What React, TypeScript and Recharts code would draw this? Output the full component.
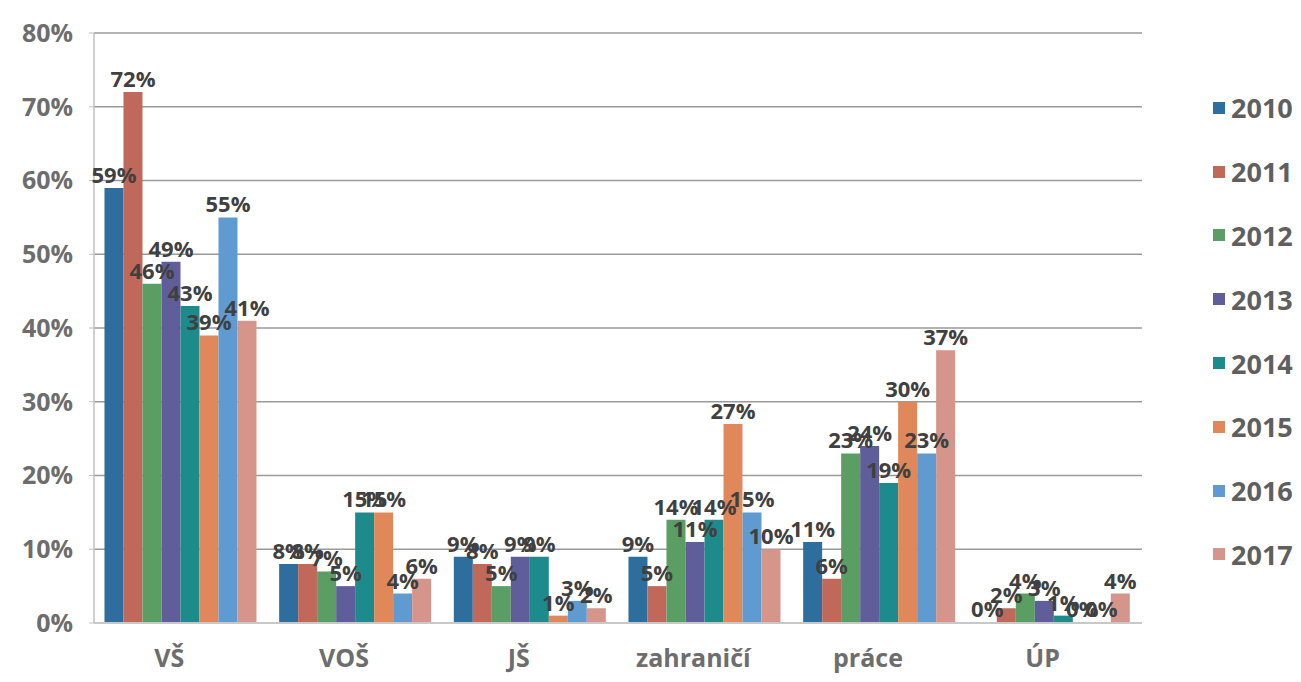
import React from 'react';
import { BarChart, Bar, XAxis, YAxis, CartesianGrid, LabelList, Rectangle } from 'recharts';

const categories = ['VŠ', 'VOŠ', 'JŠ', 'zahraničí', 'práce', 'ÚP'];
const years = ['2010', '2011', '2012', '2013', '2014', '2015', '2016', '2017'];
const colors = ['#2d6e9e', '#c0695a', '#5a9e63', '#5f5e9a', '#1d8a8c', '#e0885a', '#5f9bd0', '#d5958a'];

const v2010 = [59, 8, 9, 9, 11, 0];
const v2011 = [72, 8, 8, 5, 6, 2];
const v2012 = [46, 7, 5, 14, 23, 4];
const v2013 = [49, 5, 9, 11, 24, 3];
const v2014 = [43, 15, 9, 14, 19, 1];
const v2015 = [39, 15, 1, 27, 30, 0];
const v2016 = [55, 4, 3, 15, 23, 0];
const v2017 = [41, 6, 2, 10, 37, 4];

const yTicks = [0, 10, 20, 30, 40, 50, 60, 70, 80];

const series = [v2010, v2011, v2012, v2013, v2014, v2015, v2016, v2017];

const data = categories.map((name, i) => {
  const row: Record<string, string | number> = { name };
  years.forEach((y, k) => {
    row[y] = series[k][i];
  });
  return row;
});

const font = '"Open Sans", "Noto Sans", sans-serif';

const App: React.FC = () => {
  return (
    <div style={{ position: 'relative', width: 1285, height: 670, fontFamily: font }}>
      <BarChart
        width={1285}
        height={670}
        data={data}
        margin={{ top: 25, right: 151, left: 0, bottom: 0 }}
        barCategoryGap="6%"
        barGap={0}
      >
        <CartesianGrid vertical={false} stroke="#9a9a9a" strokeWidth={1.5} />
        <XAxis
          dataKey="name"
          height={55}
          tickLine={false}
          axisLine={{ stroke: '#c8c8c8', strokeWidth: 2 }}
          tick={{ fill: '#6d6d6d', fontSize: 25, fontWeight: 700, fontFamily: font }}
          dy={18}
          dx={-12}
        />
        <YAxis
          width={86}
          domain={[0, 80]}
          ticks={yTicks}
          tickFormatter={(v: number) => `${v}%`}
          axisLine={{ stroke: '#c0c0c0', strokeWidth: 1.5 }}
          tickLine={{ stroke: '#c0c0c0' }}
          tickSize={5}
          tick={{ fill: '#6d6d6d', fontSize: 25, fontWeight: 700, fontFamily: font }}
          dx={-14}
          interval={0}
        />
        {years.map((y, k) => (
          <Bar
            key={y}
            dataKey={y}
            fill={colors[k]}
            minPointSize={1}
            isAnimationActive={false}
            shape={(p: any) => (p.payload[y] === 0 ? <g /> : <Rectangle {...p} />)}
          >
            <LabelList
              dataKey={y}
              position="top"
              formatter={(v: number) => `${v}%`}
              fill="#404040"
              fontSize={22}
              fontWeight={700}
              fontFamily={font}
            />
          </Bar>
        ))}
      </BarChart>
      <div style={{ position: 'absolute', left: 1205, top: 68 }}>
        {years.map((y, k) => (
          <div key={y} style={{ display: 'flex', alignItems: 'center', height: 63.8 }}>
            <span style={{ display: 'inline-block', width: 12, height: 12, background: colors[k], marginRight: 6 }} />
            <span style={{ color: '#5f5f5f', fontSize: 27, fontWeight: 700, fontFamily: font }}>{y}</span>
          </div>
        ))}
      </div>
    </div>
  );
};

export default App;
